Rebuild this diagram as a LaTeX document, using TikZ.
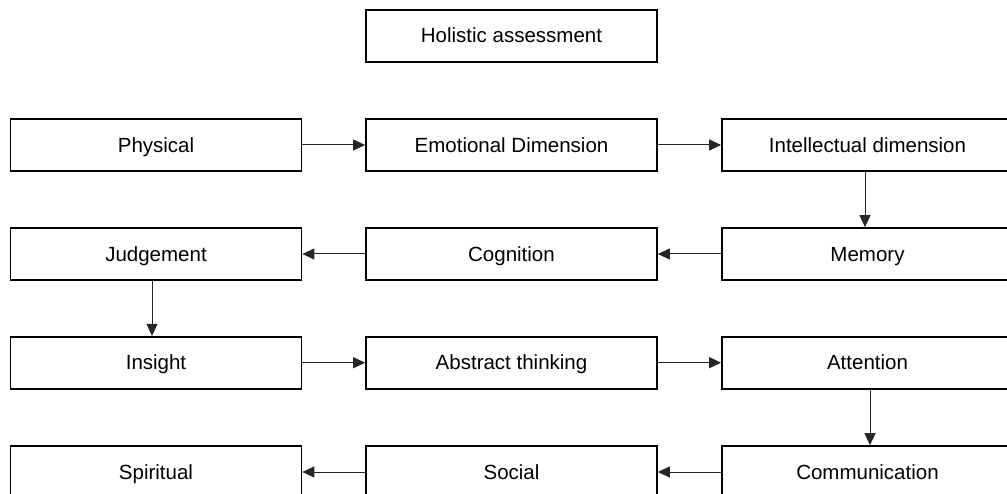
\documentclass[tikz,border=0pt]{standalone}
\usepackage{fontspec}
\setmainfont{Liberation Sans}
\usetikzlibrary{arrows.meta}
\begin{document}
\begin{tikzpicture}[x=1pt,y=-1pt,
  stepbox/.style={draw=black, line width=1.7pt, rectangle, minimum width=291pt,
    minimum height=52pt, inner sep=0pt, text height=19pt, text depth=4.5pt,
    font=\fontsize{20.5}{24}\selectfont},
  flow/.style={draw=black!85, line width=1pt, -{Triangle[length=12pt,width=11pt]}}]
\useasboundingbox (0,0) rectangle (1007,494);
\clip (0,0) rectangle (1007,494);

\node[stepbox] (hol)   at (511.5,35.7)  {Holistic assessment};

\node[stepbox] (phys)  at (156,145)     {Physical};
\node[stepbox] (emo)   at (511.5,145)   {Emotional Dimension};
\node[stepbox] (intel) at (867.5,145)   {Intellectual dimension};

\node[stepbox] (judg)  at (156,254)     {Judgement};
\node[stepbox] (cogn)  at (511.5,254)   {Cognition};
\node[stepbox] (mem)   at (867.5,254)   {Memory};

\node[stepbox] (ins)   at (156,362.7)   {Insight};
\node[stepbox] (abst)  at (511.5,362.7) {Abstract thinking};
\node[stepbox] (att)   at (867.5,362.7) {Attention};

\node[stepbox] (spir)  at (156,472)     {Spiritual};
\node[stepbox] (soc)   at (511.5,472)   {Social};
\node[stepbox] (comm)  at (867.5,472)   {Communication};

% row 1, left to right
\draw[flow] (phys) -- (emo);
\draw[flow] (emo) -- (intel);
\draw[flow] ([xshift=-2.5pt]intel.south) -- ([xshift=-2.5pt]mem.north);
% row 2, right to left
\draw[flow] (mem) -- (cogn);
\draw[flow] (cogn) -- (judg);
\draw[flow] ([xshift=-4pt]judg.south) -- ([xshift=-4pt]ins.north);
% row 3, left to right
\draw[flow] (ins) -- (abst);
\draw[flow] (abst) -- (att);
\draw[flow] ([xshift=2.5pt]att.south) -- ([xshift=2.5pt]comm.north);
% row 4, right to left
\draw[flow] (comm) -- (soc);
\draw[flow] (soc) -- (spir);
\end{tikzpicture}
\end{document}
